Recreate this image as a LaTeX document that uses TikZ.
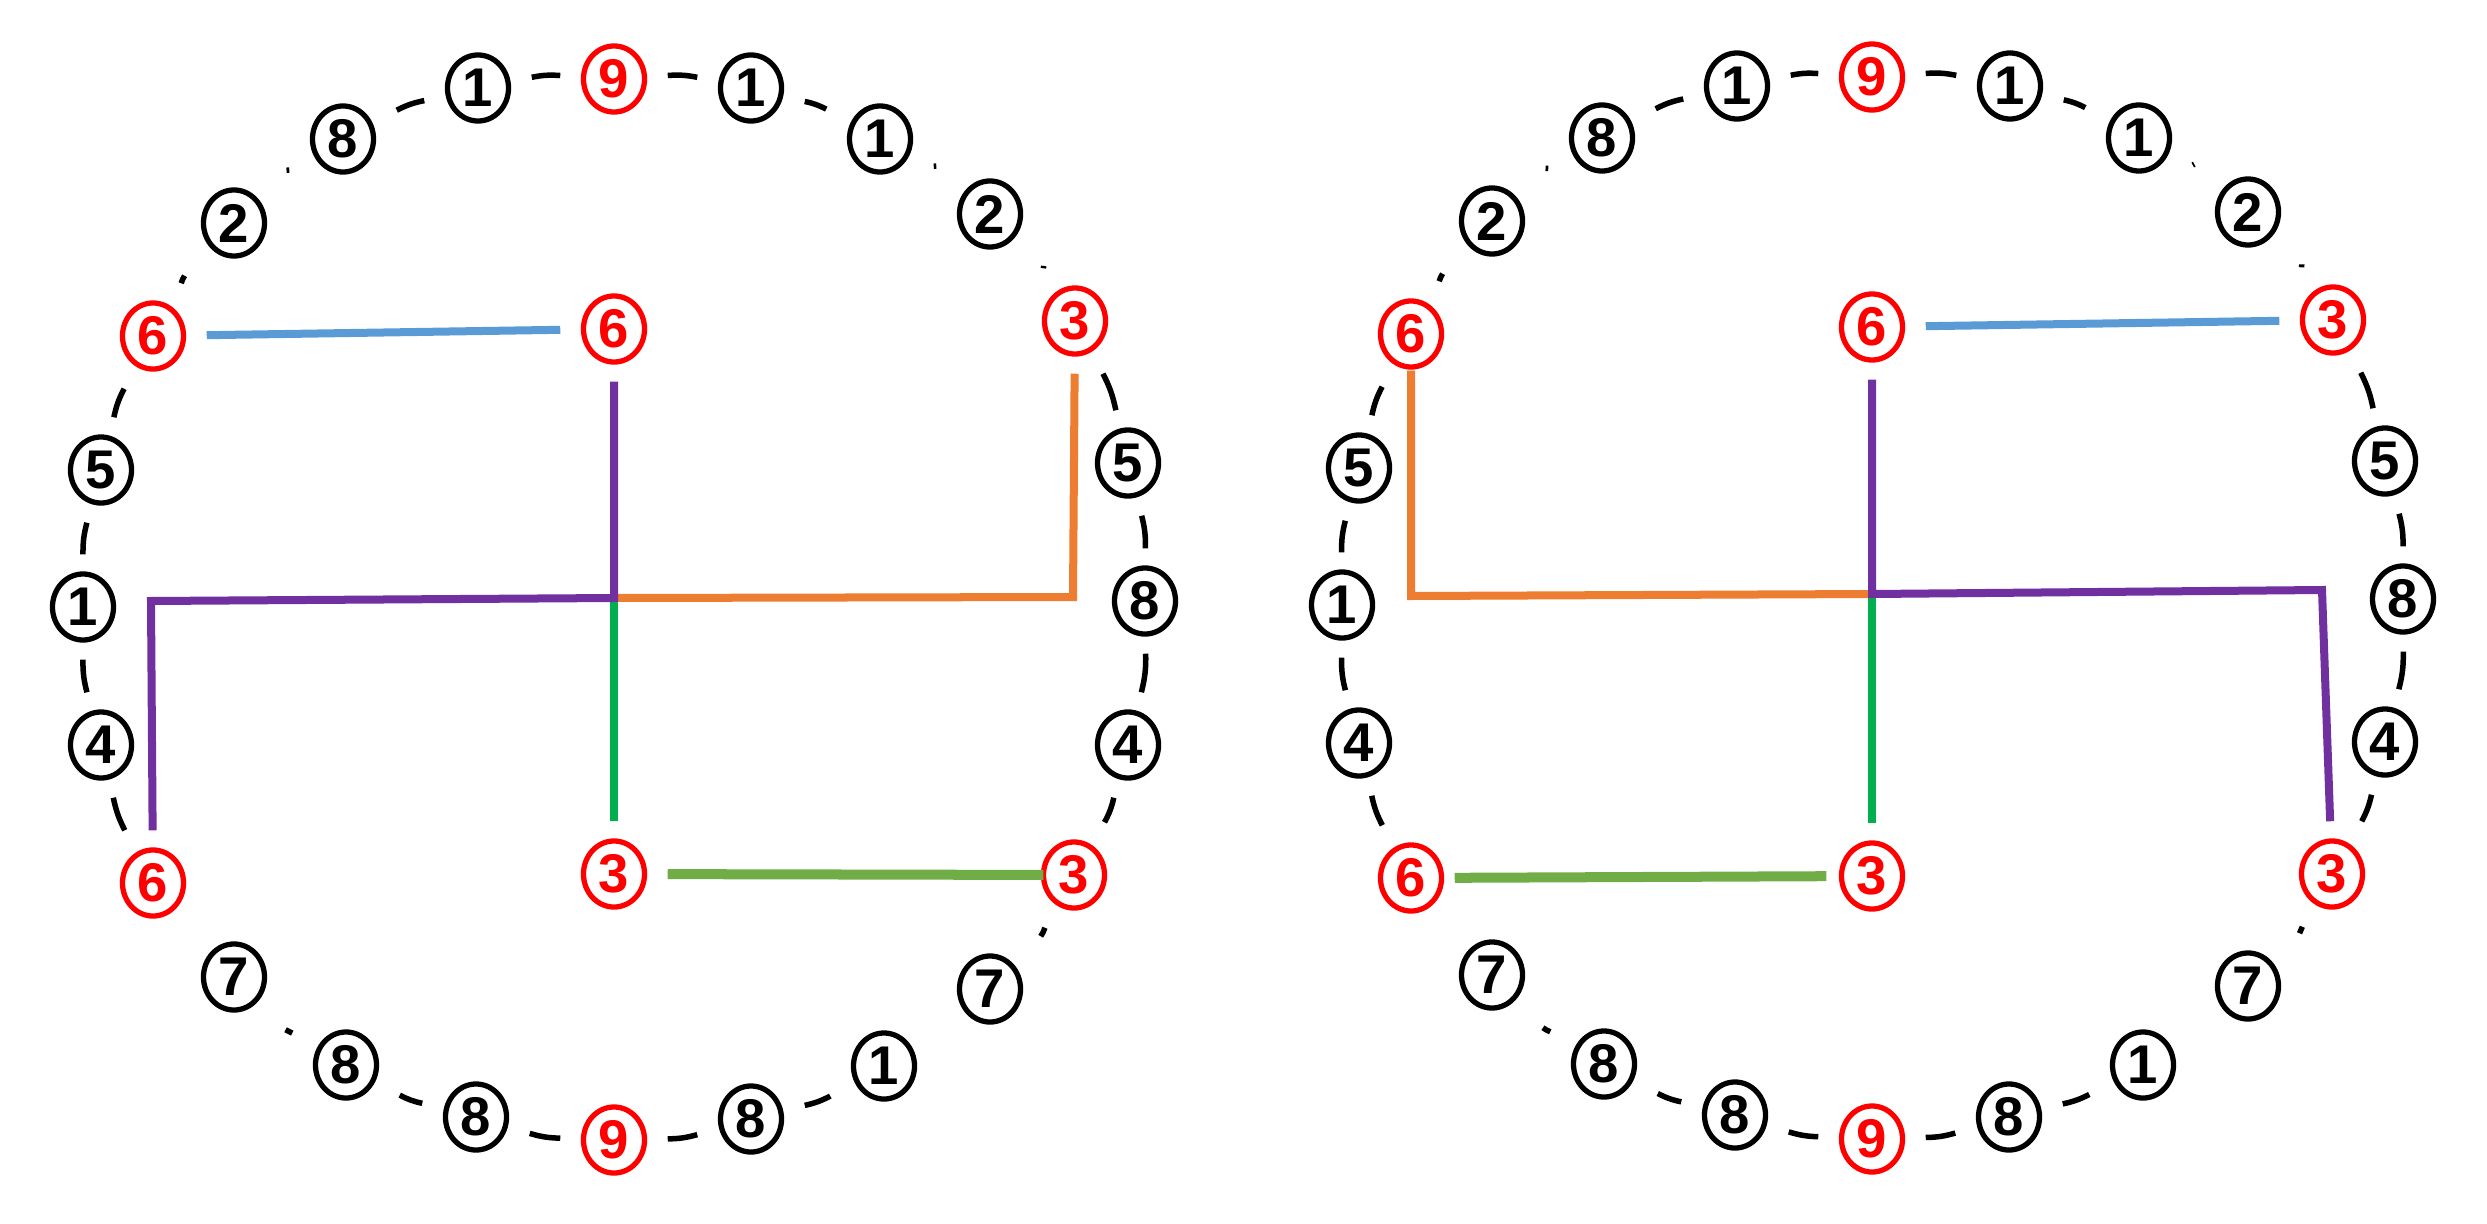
\documentclass[tikz,border=0pt]{standalone}
\usepackage{fontspec}
\setmainfont{Liberation Sans}
\definecolor{cblue}{HTML}{5B9BD5}
\definecolor{cpurple}{HTML}{7030A0}
\definecolor{corange}{HTML}{ED7D31}
\definecolor{cgreen}{HTML}{00B050}
\definecolor{clgreen}{HTML}{70AD47}
\definecolor{cred}{HTML}{FF0000}
\begin{document}
\begin{tikzpicture}[x=0.01cm,y=-0.01cm,
  num/.style={rectangle, minimum width=1.06cm, minimum height=1.04cm, inner sep=0pt,
    text=#1, font=\bfseries\fontsize{15.5}{15.5}\selectfont,
    path picture={\draw[#1, line width=1.5pt] (path picture bounding box.center) ellipse [x radius=0.305cm, y radius=0.33cm];}},
  num/.default=black,
  arcl/.style={black, line width=0.055cm},
  link/.style={line width=0.08cm},
  wlink/.style={line width=0.1cm},
]
\useasboundingbox (0,0) rectangle (2487,1224);
\foreach \n/\x/\y/\t/\c in {
  L0/614/79/9/cred, L1/751/88/1/black, L2/880/139/1/black, L3/990/214/2/black,
  L4/1075/321/3/cred, L5/1128/463/5/black, L6/1145/601/8/black, L7/1128/745/4/black,
  L8/1074/875/3/cred, L9/990/989/7/black, L10/884/1066/1/black, L11/751/1119/8/black,
  L12/614/1140/9/cred, L13/476/1117/8/black, L14/346/1065/8/black, L15/234/977/7/black,
  L16/153/883/6/cred, L17/101/745/4/black, L18/83/607/1/black, L19/101/470/5/black,
  L20/153/336/6/cred, L21/234/223/2/black, L22/343/139/8/black, L23/478/88/1/black,
  Lc6/614/329/6/cred, Lc3/614/874/3/cred,
  R0/1872/77/9/cred, R1/2010/86/1/black, R2/2139/138/1/black, R3/2248/212/2/black,
  R4/2333/320/3/cred, R5/2385/461/5/black, R6/2403/599/8/black, R7/2385/742/4/black,
  R8/2332/874/3/cred, R9/2248/986/7/black, R10/2143/1065/1/black, R11/2009/1117/8/black,
  R12/1872/1139/9/cred, R13/1735/1115/8/black, R14/1604/1064/8/black, R15/1492/975/7/black,
  R16/1411/878/6/cred, R17/1359/743/4/black, R18/1342/605/1/black, R19/1359/468/5/black,
  R20/1411/334/6/cred, R21/1492/221/2/black, R22/1602/138/8/black, R23/1737/86/1/black,
  Rc6/1872/327/6/cred, Rc3/1872/876/3/cred}
  \node[num=\c] (\n) at (\x,\y) {\t};
\foreach \a/\b in {0/1,1/2,2/3,3/4,4/5,5/6,6/7,7/8,8/9,10/11,11/12,12/13,13/14,14/15,
  16/17,17/18,18/19,19/20,20/21,21/22,22/23,23/0} {
  \draw[arcl] (L\a) to[bend left=7.5] (L\b);
  \draw[arcl] (R\a) to[bend left=7.5] (R\b);
}
\coordinate (LJ) at (614,598);
\coordinate (LcL) at (151,601);
\coordinate (LcR) at (1073,597);
\draw[link, cblue] (L20) -- (Lc6);
\draw[wlink, clgreen, shorten >=-0.23cm] (Lc3) -- (L8);
\draw[link, cgreen] (LJ) -- (Lc3);
\draw[link, corange] (LJ) -- (LcR) -- (L4);
\draw[link, cpurple] (Lc6) -- (LJ) -- (LcL) -- (L16);
\coordinate (RJ) at (1872,594);
\coordinate (RcL) at (1411,596);
\coordinate (RcR) at (2322,590);
\draw[link, cblue] (Rc6) -- (R4);
\draw[wlink, clgreen, shorten <=-0.1cm, shorten >=-0.08cm] (R16) -- (Rc3);
\draw[link, cgreen] (RJ) -- (Rc3);
\draw[link, corange, shorten >=-0.16cm] (RJ) -- (RcL) -- (R20);
\draw[link, cpurple] (Rc6) -- (RJ) -- (RcR) -- (R8);
\end{tikzpicture}
\end{document}
